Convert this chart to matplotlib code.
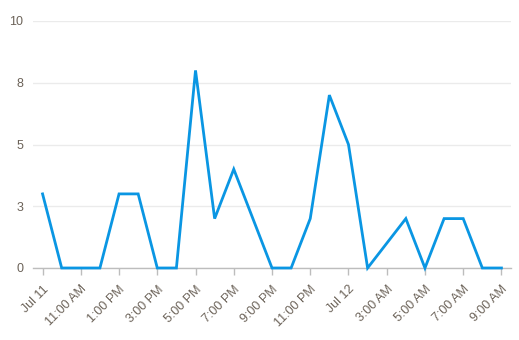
import matplotlib
matplotlib.use("Agg")
import matplotlib.pyplot as plt

hours = list(range(25))
values = [3, 0, 0, 0, 3, 3, 0, 0, 8, 2, 4, 2, 0, 0, 2, 7, 5, 0, 1, 2, 0, 2, 2, 0, 0]
tick_pos = list(range(0, 25, 2))
tick_labels = ["Jul 11", "11:00 AM", "1:00 PM", "3:00 PM", "5:00 PM", "7:00 PM",
               "9:00 PM", "11:00 PM", "Jul 12", "3:00 AM", "5:00 AM", "7:00 AM", "9:00 AM"]
ytick_vals = [0, 2.5, 5, 7.5, 10]
ytick_labels = ["0", "3", "5", "8", "10"]

plt.rcParams['font.family'] = ['Liberation Sans', 'DejaVu Sans']
fig = plt.figure(figsize=(5.19, 3.40), dpi=100)
ax = fig.add_axes([33/519, 1 - 268/340, (511-33)/519, (268-21)/340])

ax.plot(hours, values, color='#0a96e3', lw=2.0, solid_joinstyle='miter', zorder=3, clip_on=False)
ax.set_xlim(-0.5, 24.5)
ax.set_ylim(0, 10)
ax.set_yticks(ytick_vals)
ax.set_yticklabels(ytick_labels)
ax.set_xticks(tick_pos)
ax.set_xticklabels(tick_labels, rotation=45, ha='right', rotation_mode='anchor')
ax.grid(axis='y', color='#ebebeb', lw=1)
ax.set_axisbelow(True)
for s in ['top', 'right', 'left']:
    ax.spines[s].set_visible(False)
ax.spines['bottom'].set_color('#bdbdbd')
ax.spines['bottom'].set_linewidth(1)
ax.tick_params(axis='y', length=0, pad=7, labelsize=9, labelcolor='#6b6258')
ax.tick_params(axis='x', length=5, width=1, color='#bdbdbd', pad=6, labelsize=9, labelcolor='#6b6258')

fig.savefig('out.png', dpi=100)
